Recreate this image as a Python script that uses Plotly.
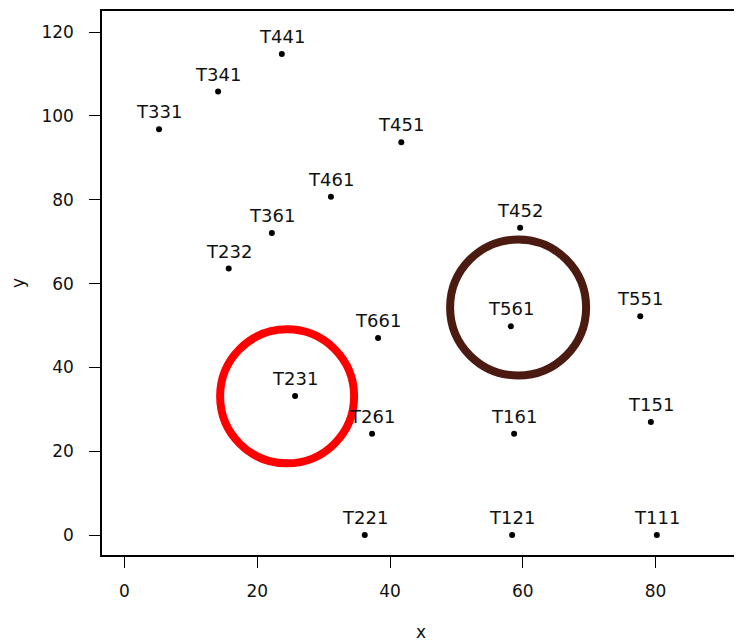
import plotly.graph_objects as go

# Point labels and coordinates
labels = ["T441", "T341", "T331", "T451", "T461", "T452", "T361", "T232",
          "T661", "T561", "T551", "T231", "T261", "T161", "T151",
          "T221", "T121", "T111"]
x_vals = [23.7, 14.1, 5.2, 41.7, 31.1, 59.6, 22.2, 15.7,
          38.2, 58.2, 77.7, 25.7, 37.3, 58.7, 79.3,
          36.2, 58.4, 80.2]
y_vals = [114.8, 105.8, 96.8, 93.7, 80.7, 73.3, 72.1, 63.6,
          47.0, 49.8, 52.2, 33.2, 24.2, 24.2, 27.0,
          0.0, 0.0, 0.0]

# Highlight circles (centres)
circle_x = [24.5, 59.3]
circle_y = [33.1, 54.3]
circle_colors = ["#FF0000", "#4B1A10"]

x_ticks = [0, 20, 40, 60, 80]
y_ticks = [0, 20, 40, 60, 80, 100, 120]

FONT = "DejaVu Sans, Liberation Sans, Arial, sans-serif"

fig = go.Figure()

fig.add_trace(go.Scatter(
    x=x_vals, y=y_vals, mode="markers",
    marker=dict(color="black", size=6),
    hoverinfo="text", text=labels, showlegend=False,
))

for cx, cy, col, sz in zip(circle_x, circle_y, circle_colors, [134, 136]):
    fig.add_trace(go.Scatter(
        x=[cx], y=[cy], mode="markers",
        marker=dict(symbol="circle-open", size=sz, color=col,
                    line=dict(width=8, color=col)),
        hoverinfo="skip", showlegend=False,
    ))

for lab, xv, yv in zip(labels, x_vals, y_vals):
    fig.add_annotation(
        x=xv, y=yv, text=lab, showarrow=False,
        xanchor="center", yanchor="middle", yshift=17.5,
        font=dict(family=FONT, size=18, color="#111111"),
    )

axis_common = dict(
    showgrid=False, zeroline=False,
    showline=True, mirror=True, linecolor="black", linewidth=1.5,
    ticks="outside", ticklen=11, tickwidth=1.2, tickcolor="black",
    tickfont=dict(family=FONT, size=17, color="#111111"),
)

fig.update_layout(
    width=742, height=643,
    margin=dict(l=94, r=10, t=1, b=96),
    paper_bgcolor="white", plot_bgcolor="white",
    xaxis=dict(range=[-3.39, 92.73], tickvals=x_ticks, autorange=False,
               title=dict(text="x", standoff=26,
                          font=dict(family=FONT, size=17, color="#111111")),
               ticklabelstandoff=9,
               **axis_common),
    yaxis=dict(range=[-4.745, 125.03], tickvals=y_ticks, autorange=False,
               title=dict(text="y", standoff=16,
                          font=dict(family=FONT, size=17, color="#111111")),
               ticklabelstandoff=12,
               **axis_common),
)

fig.write_html("out.html")
